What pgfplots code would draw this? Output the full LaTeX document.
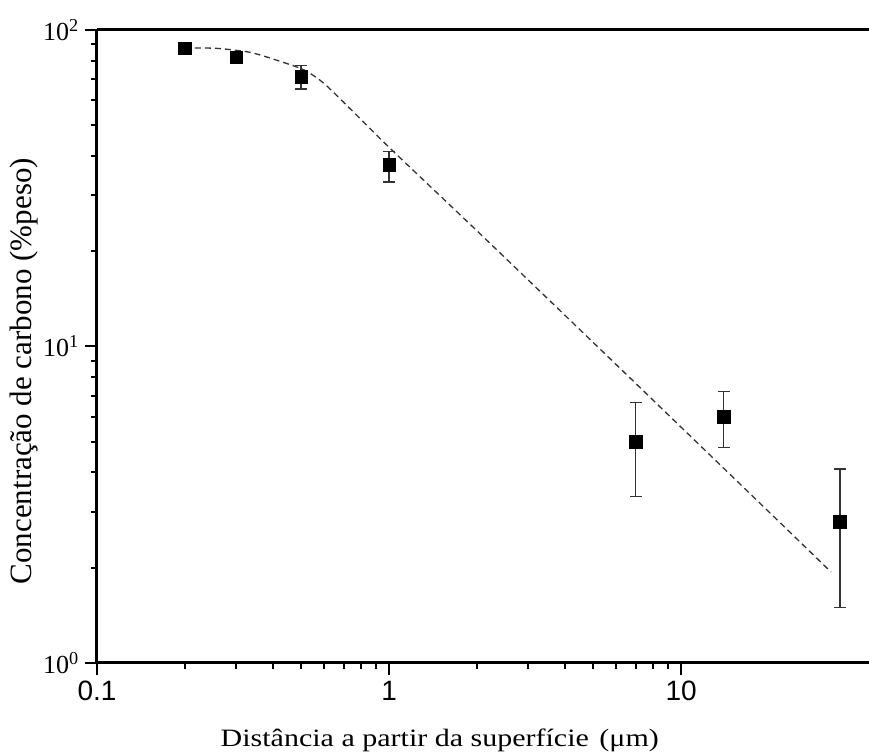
\documentclass[border=0pt]{standalone}
\usepackage{fontspec}
\usepackage{graphicx}
\setmainfont{Liberation Serif}
\newfontfamily\arial{Liberation Sans}
\usepackage{pgfplots}
\pgfplotsset{compat=1.18}
\begin{document}
\begin{tikzpicture}
\begin{axis}[
  scale only axis,
  width=772pt, height=633pt,
  xmode=log, ymode=log,
  xmin=0.1, xmax=44, ymin=1, ymax=100,
  axis lines=left,
  axis line style={-, line width=3pt},
  tick align=outside,
  major tick length=12pt, minor tick length=6pt,
  every tick/.style={black, line width=2pt},
  xtick={0.1,1,10}, xticklabels={0.1,1,10},
  ytick={1,10,100}, yticklabels={10\textsuperscript{0},10\textsuperscript{1},10\textsuperscript{2}},
  xticklabel style={font=\arial\fontsize{28}{28}\selectfont, inner sep=0pt, anchor=north, yshift=-6pt},
  yticklabel style={font=\fontsize{26}{26}\selectfont, inner sep=0pt, anchor=east, xshift=-6pt},
  xlabel={\scalebox{1.2}[1]{\fontsize{25}{25}\selectfont Distância a partir da superfície\hspace{0.35em}(μm)}},
  ylabel={\fontsize{31}{31}\selectfont Concentração de carbono (\%peso)},
  every axis x label/.style={at={([yshift=-84pt]rel axis cs:0.444,0)}, anchor=base},
  every axis y label/.style={at={([xshift=-65pt]rel axis cs:0,0.461)}, rotate=90, anchor=base},
  clip=false,
]
\draw[line width=3pt] (rel axis cs:0,1) -- (rel axis cs:1,1);
\coordinate (bl) at (rel axis cs:0,0);
\coordinate (tr) at (rel axis cs:1,1);
\addplot[black!80, line width=1.3pt, dash pattern=on 6pt off 4pt, smooth, tension=0.45] coordinates {
 (0.2,87.7) (0.257,87.5) (0.334,85.0) (0.412,80.3) (0.5,75.5) (0.55,71.9)
 (0.612,66.6) (0.775,53.8) (1,42.6) (2,23.2) (5,10.3)
 (10,5.56) (20,3.0) (32.6,1.94)
};
\addplot[only marks, mark=square*, mark size=6.3pt, black,
  error bars/.cd, y dir=both, y explicit,
  error bar style={black!80, line width=1.3pt},
  error mark options={black!80, line width=1.3pt, mark size=6pt, rotate=90}]
coordinates {
 (0.2,87.7) +- (0,0)
 (0.3,82) +- (0,0)
 (0.5,71.3) += (0,5.8) -= (0,6.2)
 (1,37.5) += (0,3.9) -= (0,4.4)
 (7,5.0) +- (0,1.65)
 (14,6.0) +- (0,1.2)
 (35,2.8) +- (0,1.3)
};
\end{axis}
\pgfresetboundingbox
\path[use as bounding box] ([shift={(-97pt,-90pt)}]bl) rectangle ([shift={(0pt,30pt)}]tr);
\end{tikzpicture}
\end{document}
